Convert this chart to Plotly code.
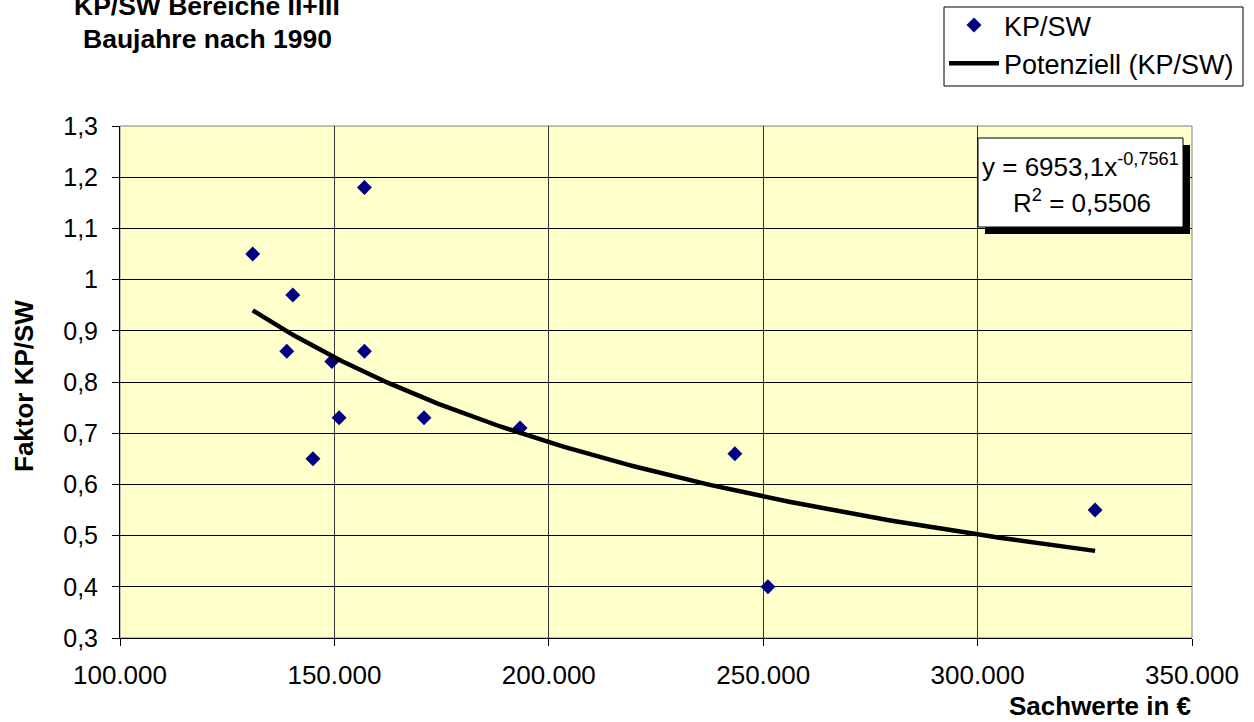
import numpy as np
import plotly.graph_objects as go

# ---- data ----
sachwerte = [130950, 157000, 140300, 138900, 157000, 149400, 151100, 170900, 145000, 193300, 243400, 251100, 327400]
faktor = [1.05, 1.18, 0.97, 0.86, 0.86, 0.84, 0.73, 0.73, 0.65, 0.71, 0.66, 0.40, 0.55]

# power trendline as displayed in the chart: y = a * x^b
trend_a = 6953.1
trend_b = -0.7561
r_squared = "0,5506"

title_lines = ["KP/SW Bereiche II+III", "Baujahre nach 1990"]
x_title = "Sachwerte in €"
y_title = "Faktor KP/SW"
series_name = "KP/SW"
trend_name = "Potenziell (KP/SW)"

FONT = "Liberation Sans, Arial, sans-serif"
FS = 26

W, H = 1254, 722
L, R, T, B = 120, 62, 126, 84
PW, PH = W - L - R, H - T - B


def px_x(p):
    return (p - L) / PW


def px_y(p):
    return (H - B - p) / PH


xt = np.linspace(min(sachwerte), max(sachwerte), 200)
yt = trend_a * xt ** trend_b

fig = go.Figure()
fig.add_trace(go.Scatter(
    x=sachwerte, y=faktor, mode="markers", name=series_name,
    marker=dict(symbol="diamond", size=11.5, color="#000080", line=dict(width=0)),
))
fig.add_trace(go.Scatter(
    x=xt, y=yt, mode="lines", name=trend_name,
    line=dict(color="black", width=4.5),
))

fig.update_layout(
    width=W, height=H,
    margin=dict(l=L, r=R, t=T, b=B, autoexpand=False),
    paper_bgcolor="white",
    plot_bgcolor="#FFFFCC",
    separators=",.",
    font=dict(family=FONT, size=FS, color="black"),
    showlegend=True,
    legend=dict(
        x=px_x(944), y=px_y(1), xanchor="left", yanchor="top",
        borderwidth=0, bgcolor="rgba(0,0,0,0)",
        font=dict(family=FONT, size=27, color="black"),
        tracegroupgap=0, itemwidth=50,
    ),
    xaxis=dict(
        range=[100000, 350000], dtick=50000, tick0=100000, tickformat=",d",
        showgrid=True, gridcolor="#333333", gridwidth=1,
        showline=True, linecolor="black", linewidth=1, mirror=False,
        ticks="outside", ticklen=7, tickcolor="black",
        tickfont=dict(family=FONT, size=FS, color="black"),
        ticklabelstandoff=7,
        zeroline=False,
    ),
    yaxis=dict(
        range=[0.3, 1.3], dtick=0.1, tick0=0.3,
        showgrid=True, gridcolor="black", gridwidth=1,
        showline=True, linecolor="black", linewidth=1,
        ticks="outside", ticklen=7, tickcolor="black",
        tickfont=dict(family=FONT, size=25, color="black"),
        ticklabelstandoff=9,
        zeroline=False,
    ),
)

# plot area border (grey) on top and right
fig.add_shape(type="rect", xref="paper", yref="paper", x0=0, y0=0, x1=1, y1=1,
              line=dict(color="#808080", width=1), layer="below")

# legend frame
fig.add_shape(type="rect", xref="paper", yref="paper",
              x0=px_x(944), x1=px_x(1243), y0=px_y(86), y1=px_y(7),
              line=dict(width=1, color="black"), fillcolor="white", layer="above")

# equation box with shadow
fig.add_shape(type="rect", xref="paper", yref="paper",
              x0=px_x(985), x1=px_x(1190), y0=px_y(234), y1=px_y(145),
              line=dict(width=0), fillcolor="black", layer="above")
fig.add_shape(type="rect", xref="paper", yref="paper",
              x0=px_x(978), x1=px_x(1183), y0=px_y(227), y1=px_y(138),
              line=dict(width=1, color="black"), fillcolor="white", layer="above")

annotations = [
    dict(text="y = 6953,1x<sup>-0,7561</sup>",
         x=px_x(1080), y=px_y(165), xref="paper", yref="paper",
         xanchor="center", yanchor="middle", showarrow=False, align="center",
         font=dict(family=FONT, size=FS, color="black")),
    dict(text="R<sup>2</sup> = " + r_squared,
         x=px_x(1082), y=px_y(201), xref="paper", yref="paper",
         xanchor="center", yanchor="middle", showarrow=False, align="center",
         font=dict(family=FONT, size=FS, color="black")),
    dict(text="<b>" + title_lines[0] + "</b>", x=px_x(207), y=px_y(6),
         xref="paper", yref="paper", xanchor="center", yanchor="middle",
         showarrow=False, font=dict(family=FONT, size=26.5, color="black")),
    dict(text="<b>" + title_lines[1] + "</b>", x=px_x(207), y=px_y(39),
         xref="paper", yref="paper", xanchor="center", yanchor="middle",
         showarrow=False, font=dict(family=FONT, size=26.5, color="black")),
    dict(text="<b>" + y_title + "</b>", x=px_x(24), y=px_y(386),
         xref="paper", yref="paper", xanchor="center", yanchor="middle",
         textangle=-90, showarrow=False,
         font=dict(family=FONT, size=FS, color="black")),
    dict(text="<b>" + x_title + "</b>", x=px_x(1193), y=px_y(706),
         xref="paper", yref="paper", xanchor="right", yanchor="middle",
         showarrow=False, font=dict(family=FONT, size=FS, color="black")),
]
fig.update_layout(annotations=annotations)

fig.write_html("out.html")
